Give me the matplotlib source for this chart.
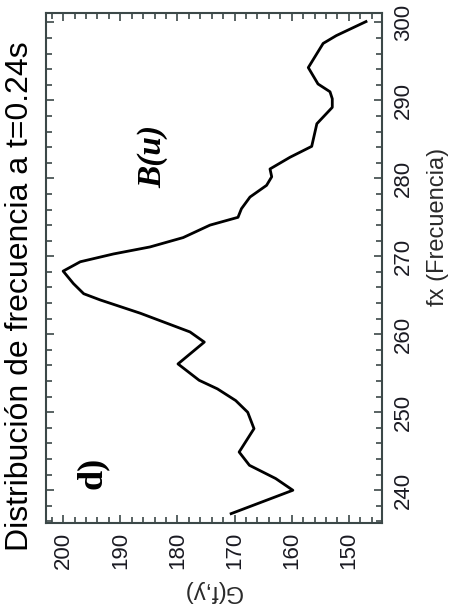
import matplotlib.pyplot as plt
from matplotlib.ticker import MultipleLocator

# curve: frequency fx and G(f,y)
fx = [237.0, 240.0, 241.5, 243.2, 244.9, 247.9, 250.0, 251.5, 253.0, 254.1,
      256.2, 259.0, 260.3, 262.7, 264.4, 265.2, 266.5, 268.1, 269.3, 270.3,
      271.2, 272.4, 274.0, 275.0, 276.1, 277.6, 279.1, 280.2, 281.2, 282.7,
      284.1, 287.0, 289.1, 290.2, 291.1, 292.1, 294.2, 297.3, 298.3, 300.1]
G = [170.6, 159.8, 162.8, 167.4, 169.2, 166.6, 167.7, 169.8, 173.0, 176.2,
     179.9, 175.3, 177.8, 186.5, 193.5, 196.4, 198.2, 200.0, 197.0, 191.2,
     184.8, 179.0, 174.3, 169.4, 168.8, 167.3, 164.4, 163.5, 163.8, 160.3,
     156.5, 155.6, 152.9, 152.9, 153.3, 155.4, 157.1, 154.5, 152.2, 147.0]

title = "Distribución de frecuencia a t=0.24s"
xlab = "fx (Frecuencia)"
ylab = "G(f,y)"

plt.rcParams['font.family'] = ['Liberation Sans', 'DejaVu Sans']
spine_col = "#3c4848"

fig = plt.figure(figsize=(4.63, 6.14), dpi=100)
# the whole chart is turned a quarter turn: G runs along the bottom, fx up the right side
ax = fig.add_axes([46/463, 1-523/614, 336/463, 510/614])
ax.plot(G, fx, color="black", lw=2.0)
ax.set_xlim(203, 144.2)
ax.set_ylim(235.8, 301.2)

ax.xaxis.set_major_locator(MultipleLocator(10))
ax.xaxis.set_minor_locator(MultipleLocator(2))
ax.yaxis.set_major_locator(MultipleLocator(10))
ax.yaxis.set_minor_locator(MultipleLocator(2))
ax.tick_params(which='both', direction='in', top=True, bottom=True, left=True, right=True,
               labelleft=False, labelright=True, color=spine_col, width=1.2)
ax.tick_params(which='major', length=6)
ax.tick_params(which='minor', length=4)
ax.tick_params(axis='x', labelrotation=90, labelsize=16, pad=6.5, labelcolor="#1a1a22")
ax.tick_params(axis='y', labelrotation=90, labelsize=16, pad=8, labelcolor="#1a1a22")
for lab in ax.get_yticklabels():
    lab.set_verticalalignment('center')
for s in ax.spines.values():
    s.set_color(spine_col)
    s.set_linewidth(1.5)

ax.yaxis.set_label_position('right')
ax.set_ylabel(xlab, fontsize=17, color="#2a2a2a", rotation=90, va='center', ha='center')
ax.yaxis.set_label_coords(1.167, 0.58)
ax.set_xlabel(ylab, fontsize=17, color="#2a2a2a", rotation=180, va='center', ha='center')
ax.xaxis.set_label_coords(0.494, -0.133)

fig.text(20/463, 1-296/614, title, fontsize=23, rotation=90, ha='center', va='center')

ax.text(0.137, 0.098, "d)", transform=ax.transAxes, rotation=90, ha='center', va='center',
        fontsize=26, fontweight='bold', family='Liberation Serif')
ax.text(0.318, 0.718, "B(u)", transform=ax.transAxes, rotation=90, ha='center', va='center',
        fontsize=24, fontweight='bold', fontstyle='italic', family='Liberation Serif')

fig.savefig("out.png", dpi=100)
